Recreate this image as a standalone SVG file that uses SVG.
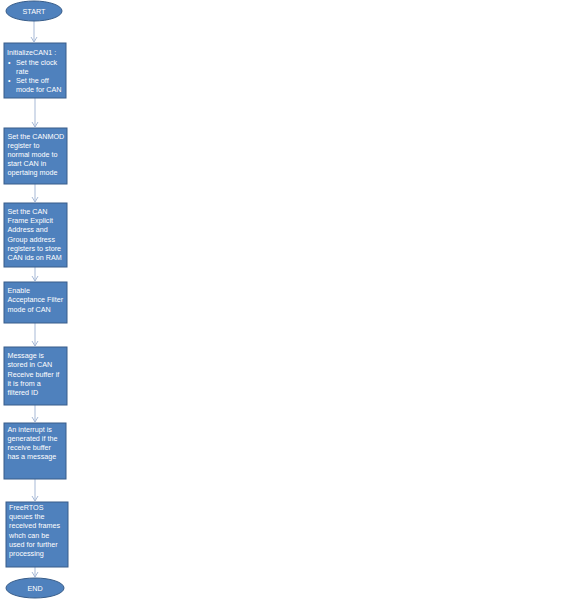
<svg xmlns="http://www.w3.org/2000/svg" width="577" height="600" viewBox="0 0 577 600">
<style>
.n{fill:#4F81BD;stroke:#385D8A;stroke-width:1}
.t{fill:#fff;font-family:"Liberation Sans",Arial,sans-serif;font-size:7.2px}
.c{fill:none;stroke:#A7B9D6;stroke-width:1}
</style>
<defs>
<marker id="a" markerWidth="8" markerHeight="8" refX="6" refY="4" orient="auto" markerUnits="userSpaceOnUse">
<path d="M1,1 L6,4 L1,7" fill="none" stroke="#A7B9D6" stroke-width="1"/>
</marker>
</defs>
<rect width="577" height="600" fill="#fff"/>
<g id="connectors">
<line class="c" x1="34" y1="21" x2="34" y2="42" marker-end="url(#a)"/>
<line class="c" x1="35" y1="98" x2="35" y2="127" marker-end="url(#a)"/>
<line class="c" x1="35" y1="184" x2="35" y2="202" marker-end="url(#a)"/>
<line class="c" x1="35" y1="267" x2="35" y2="281" marker-end="url(#a)"/>
<line class="c" x1="35" y1="323" x2="35" y2="346" marker-end="url(#a)"/>
<line class="c" x1="35" y1="405" x2="35" y2="422" marker-end="url(#a)"/>
<line class="c" x1="35" y1="479" x2="35" y2="501" marker-end="url(#a)"/>
<line class="c" x1="35" y1="567" x2="35" y2="577" marker-end="url(#a)"/>
</g>
<g id="start">
<ellipse class="n" cx="34" cy="11" rx="28" ry="10"/>
<text class="t" x="34" y="14" text-anchor="middle">START</text>
</g>
<g id="init">
<rect class="n" x="4" y="43" width="62" height="55"/>
<text class="t" x="7" y="55">InitializeCAN1 :</text>
<text class="t" x="8" y="65">•</text>
<text class="t" x="16" y="65">Set the clock</text>
<text class="t" x="16" y="74">rate</text>
<text class="t" x="8" y="83">•</text>
<text class="t" x="16" y="83">Set the off</text>
<text class="t" x="16" y="92">mode for CAN</text>
</g>
<g id="canmod">
<rect class="n" x="4" y="128" width="63" height="56"/>
<text class="t" x="7.5" y="139">Set the CANMOD</text>
<text class="t" x="7.5" y="147.5">register to</text>
<text class="t" x="7.5" y="156.5">normal mode to</text>
<text class="t" x="7.5" y="165.5">start CAN in</text>
<text class="t" x="7.5" y="175">opertaing mode</text>
</g>
<g id="frame">
<rect class="n" x="4" y="203" width="63" height="64"/>
<text class="t" x="7.5" y="214">Set the CAN</text>
<text class="t" x="7.5" y="223">Frame Explicit</text>
<text class="t" x="7.5" y="232">Address and</text>
<text class="t" x="7.5" y="241.5">Group address</text>
<text class="t" x="7.5" y="250.5">registers to store</text>
<text class="t" x="7.5" y="260">CAN ids on RAM</text>
</g>
<g id="filter">
<rect class="n" x="4" y="282" width="63" height="41"/>
<text class="t" x="7.5" y="293">Enable</text>
<text class="t" x="7.5" y="302">Acceptance Filter</text>
<text class="t" x="7.5" y="311.5">mode of CAN</text>
</g>
<g id="stored">
<rect class="n" x="4" y="347" width="63" height="58"/>
<text class="t" x="7.5" y="358">Message is</text>
<text class="t" x="7.5" y="367">stored in CAN</text>
<text class="t" x="7.5" y="376.5">Receive buffer if</text>
<text class="t" x="7.5" y="385.5">it is from a</text>
<text class="t" x="7.5" y="395">filtered ID</text>
</g>
<g id="interrupt">
<rect class="n" x="4" y="423" width="62" height="56"/>
<text class="t" x="7.5" y="431.5">An interrupt is</text>
<text class="t" x="7.5" y="440.5">generated if the</text>
<text class="t" x="7.5" y="450">receive buffer</text>
<text class="t" x="7.5" y="459">has a message</text>
</g>
<g id="freertos">
<rect class="n" x="6" y="502" width="62" height="65"/>
<text class="t" x="9" y="510">FreeRTOS</text>
<text class="t" x="9" y="519">queues the</text>
<text class="t" x="9" y="528">received frames</text>
<text class="t" x="9" y="537.5">whch can  be</text>
<text class="t" x="9" y="546.5">used for further</text>
<text class="t" x="9" y="555.5">processing</text>
</g>
<g id="end">
<ellipse class="n" cx="35" cy="588" rx="29" ry="10"/>
<text class="t" x="35" y="591" text-anchor="middle">END</text>
</g>
</svg>
